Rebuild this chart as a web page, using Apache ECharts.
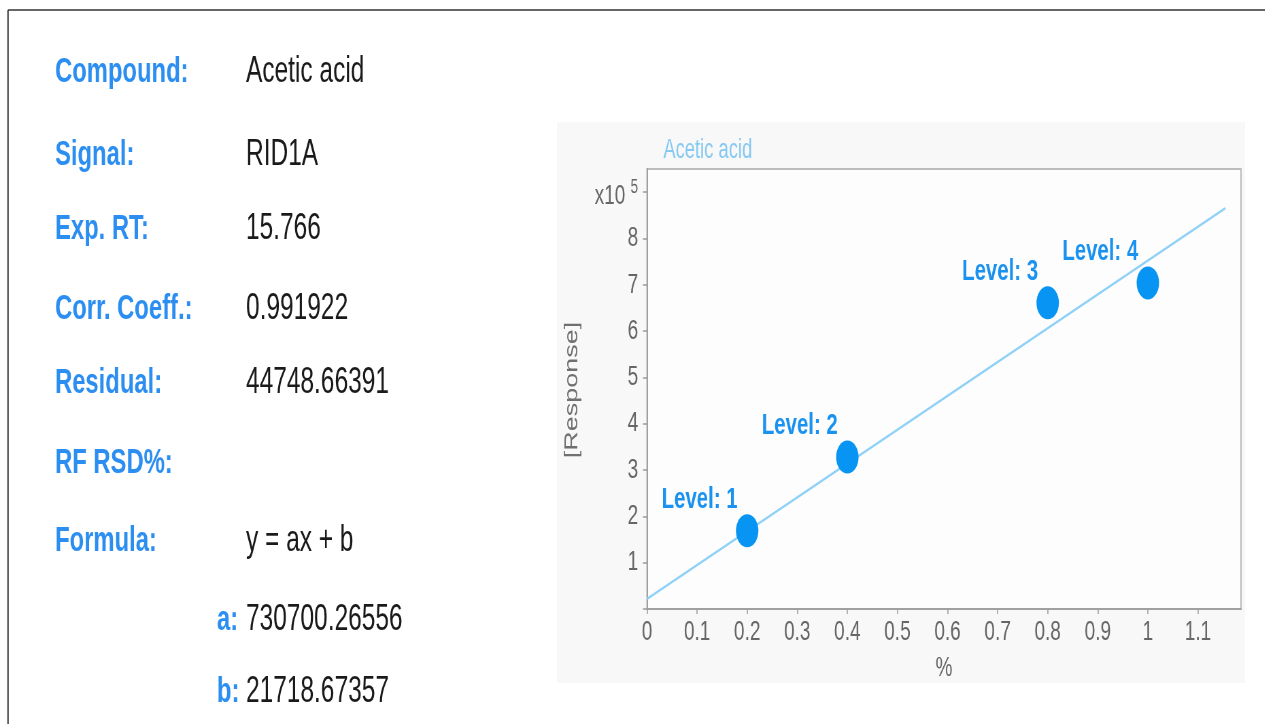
<!DOCTYPE html>
<html>
<head>
<meta charset="utf-8">
<script src="https://cdn.jsdelivr.net/npm/echarts@6/dist/echarts.min.js"></script>
<style>
  html, body { margin: 0; padding: 0; background: #ffffff; overflow: hidden; }
  #c { position: absolute; left: 0; top: 0; width: 1860px; height: 724px;
       transform: scaleX(0.68); transform-origin: 0 0; }
</style>
</head>
<body>
<div id="c"></div>
<script>
// ---- data ----
const levelNames = ['Level: 1', 'Level: 2', 'Level: 3', 'Level: 4'];
const levelX = [0.2, 0.4, 0.8, 1.0];
const levelY = [169000, 328000, 661000, 704000];
const fitX = [0, 1.155];
const fitY = [21718.67, 865700];
const infoLabels = ['Compound:', 'Signal:', 'Exp. RT:', 'Corr. Coeff.:', 'Residual:', 'RF RSD%:', 'Formula:'];
const infoValues = ['Acetic acid', 'RID1A', '15.766', '0.991922', '44748.66391', '', 'y = ax + b'];
const coefLabels = ['a:', 'b:'];
const coefValues = ['730700.26556', '21718.67357'];
const chartTitle = 'Acetic acid';
const yAxisName = '[Response]';
const xAxisName = '%';

// ---- layout helpers ----
const SX = 0.68;                 // horizontal squeeze of the reference
function X(px) { return px / SX; }

const BLUE = '#2b8ef0';
const FONT = '"Liberation Sans", Arial, sans-serif';
const infoRowY = [72, 155, 229, 309, 383, 463, 541];
const coefRowY = [620, 692];

const graphics = [];
// outer frame
graphics.push({ type: 'line', shape: { x1: X(8), y1: 10, x2: X(1265), y2: 10 }, style: { stroke: '#333', lineWidth: 1.5 }, z: 1 });
graphics.push({ type: 'line', shape: { x1: X(8), y1: 10, x2: X(8), y2: 724 }, style: { stroke: '#333', lineWidth: 2 }, z: 1 });
// chart panel background
graphics.push({ type: 'rect', shape: { x: X(557), y: 122, width: X(1245) - X(557), height: 561 }, style: { fill: '#f8f8f8' }, z: -10 });

infoLabels.forEach(function (t, i) {
  graphics.push({ type: 'text', x: X(55), y: infoRowY[i], style: { text: t, fill: BLUE, font: 'bold 35px ' + FONT, textAlign: 'left', textVerticalAlign: 'middle' }, z: 5 });
  if (infoValues[i]) {
    graphics.push({ type: 'text', x: X(246), y: infoRowY[i], style: { text: infoValues[i], fill: '#1a1a1a', font: '36px ' + FONT, textAlign: 'left', textVerticalAlign: 'middle' }, z: 5 });
  }
});
coefLabels.forEach(function (t, i) {
  graphics.push({ type: 'text', x: X(217), y: coefRowY[i], style: { text: t, fill: BLUE, font: 'bold 35px ' + FONT, textAlign: 'left', textVerticalAlign: 'middle' }, z: 5 });
  graphics.push({ type: 'text', x: X(246), y: coefRowY[i], style: { text: coefValues[i], fill: '#1a1a1a', font: '36px ' + FONT, textAlign: 'left', textVerticalAlign: 'middle' }, z: 5 });
});
// rotated y axis name
graphics.push({ type: 'text', x: X(572), y: 390, rotation: Math.PI / 2, style: { text: yAxisName, fill: '#707070', font: '27px ' + FONT, textAlign: 'center', textVerticalAlign: 'middle' }, z: 5 });

const chart = echarts.init(document.getElementById('c'), null, { renderer: 'canvas' });
chart.setOption({
  animation: false,
  backgroundColor: 'transparent',
  title: {
    text: chartTitle, left: X(660), top: 132,
    textStyle: { color: '#86c9f2', fontSize: 27, fontWeight: 'normal', fontFamily: FONT }
  },
  grid: {
    left: X(647), right: 1860 - X(1241), top: 169, bottom: 724 - 609,
    show: true, backgroundColor: '#fdfdfd', borderColor: '#bdbdbd', borderWidth: 2
  },
  xAxis: {
    type: 'value', min: 0, max: 1.186, interval: 0.1,
    name: xAxisName, nameLocation: 'middle', nameGap: 45,
    nameTextStyle: { color: '#666', fontSize: 28, fontFamily: FONT },
    axisLine: { show: true, lineStyle: { color: '#a0a0a0', width: 2 } },
    axisTick: { show: true, length: 5, lineStyle: { color: '#999', width: 1.5 } },
    splitLine: { show: false },
    axisLabel: {
      color: '#666', fontSize: 28, margin: 9, fontFamily: FONT,
      showMaxLabel: false,
      formatter: function (v) {
        const r = Math.round(v * 10);
        if (Math.abs(v * 10 - r) > 1e-6) return '';
        return String(+(r / 10).toFixed(1));
      }
    }
  },
  yAxis: {
    type: 'value', min: 0, max: 950000, interval: 100000,
    axisLine: { show: true, lineStyle: { color: '#a0a0a0', width: 2 } },
    axisTick: { show: true, length: 6, lineStyle: { color: '#999', width: 1.5 } },
    splitLine: { show: false },
    axisLabel: {
      color: '#666', fontSize: 28, margin: 13, fontFamily: FONT,
      showMaxLabel: false,
      formatter: function (v) {
        if (v === 0) return '';
        if (v % 100000 !== 0) return '';
        if (v === 900000) return '{e|x10} {s|5}';
        return String(v / 100000);
      },
      rich: {
        e: { color: '#666', fontSize: 28, fontFamily: FONT, padding: [8, 0, 0, 0] },
        s: { color: '#666', fontSize: 20, fontFamily: FONT, padding: [0, 0, 10, 0] }
      }
    }
  },
  series: [
    {
      type: 'line',
      data: fitX.map(function (x, i) { return [x, fitY[i]]; }),
      showSymbol: false, symbol: 'none',
      lineStyle: { color: '#8fd1f7', width: 2.5 },
      z: 2, silent: true
    },
    {
      type: 'scatter',
      data: levelX.map(function (x, i) { return { value: [x, levelY[i]], name: levelNames[i] }; }),
      symbol: 'circle', symbolSize: 33,
      itemStyle: { color: '#0894f2', opacity: 1 },
      label: {
        show: true, position: 'inside', offset: [-70, -31],
        formatter: function (p) { return p.name; },
        color: '#1a92ef', fontSize: 30, fontWeight: 'bold',
        fontFamily: FONT
      },
      z: 3
    }
  ],
  graphic: { elements: graphics }
});
</script>
</body>
</html>
